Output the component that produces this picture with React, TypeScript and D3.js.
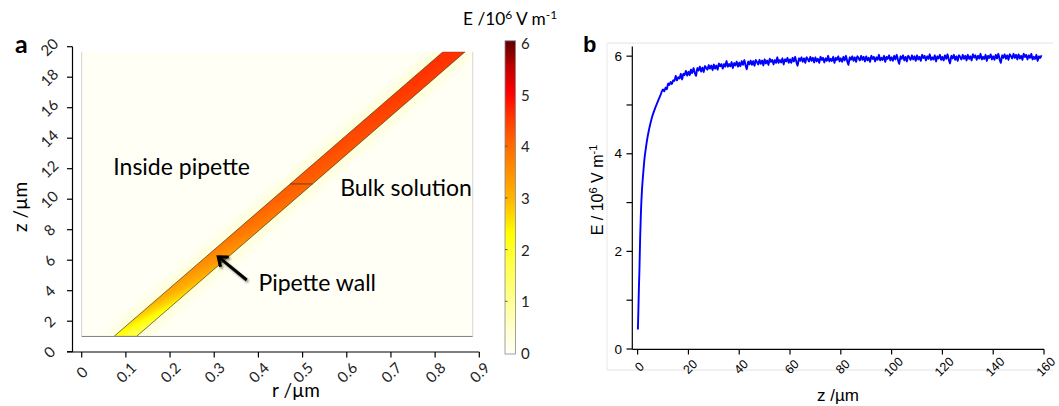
import React from "react";
import * as d3 from "d3";

// ---------- Panel a data ----------
const rTicks = [0, 0.1, 0.2, 0.3, 0.4, 0.5, 0.6, 0.7, 0.8, 0.9];
const rTickLabels = ["0", "0.1", "0.2", "0.3", "0.4", "0.5", "0.6", "0.7", "0.8", "0.9"];
const zTicksA = [0, 2, 4, 6, 8, 10, 12, 14, 16, 18, 20];
const cbTicks = [0, 1, 2, 3, 4, 5, 6];
const heatStops = [0, 0.5, 1, 2, 2.3, 3, 4, 4.5, 5, 5.5, 6];
const heatColors = ["#fffff6", "#ffffcc", "#ffff94", "#ffff2a", "#ffff00", "#ffb400", "#ff6a00", "#ff3c00", "#ff0000", "#c00000", "#5e0000"];
const boxR = [0, 0.885];
const boxZ = [1, 19.67];
const wallZ = [1, 19.67];
const wallInnerR = [0.073, 0.818];
const wallOuterR = [0.124, 0.868];
const dividerZ = 11;
const stripZ = [1, 2, 3, 4, 5, 6, 8, 10, 12, 14, 16, 18, 19.67];
const stripE = [1.8, 2.3, 2.7, 3.0, 3.25, 3.45, 3.8, 4.05, 4.2, 4.35, 4.45, 4.55, 4.6];
const annotations = [
  { text: "Inside pipette", r: 0.0715, z: 12.2 },
  { text: "Bulk solution", r: 0.585, z: 10.8 },
  { text: "Pipette wall", r: 0.4, z: 4.6 },
];
const arrowTail = { r: 0.3735, z: 4.7 };
const arrowHead = { r: 0.309, z: 6.23 };

// ---------- Panel b data ----------
const zTicksB = [0, 20, 40, 60, 80, 100, 120, 140, 160];
const eTicks = [0, 1, 2, 3, 4, 5, 6];
const eTickLabels = [0, 2, 4, 6];
const earlyZ = [0.1, 0.3, 0.5, 0.7, 1.0, 1.3, 1.7, 2.2, 2.7, 3.2, 3.7, 4.5, 5.5, 6.5, 8, 9];
const earlyE = [0.4, 0.8, 1.25, 1.6, 2.3, 2.8, 3.25, 3.6, 3.9, 4.1, 4.28, 4.5, 4.72, 4.88, 5.08, 5.2];
const noisyZStart = 10;
const noisyZStep = 0.5;
const noisyE = [
  5.32, 5.28, 5.36, 5.32, 5.44, 5.41, 5.47, 5.43, 5.51, 5.49,
  5.60, 5.50, 5.57, 5.54, 5.64, 5.52, 5.64, 5.61, 5.70, 5.60,
  5.68, 5.61, 5.73, 5.65, 5.76, 5.66, 5.59, 5.76, 5.70, 5.79,
  5.68, 5.77, 5.67, 5.80, 5.76, 5.72, 5.82, 5.74, 5.81, 5.71,
  5.83, 5.74, 5.81, 5.72, 5.85, 5.79, 5.84, 5.74, 5.84, 5.78,
  5.90, 5.78, 5.84, 5.79, 5.88, 5.75, 5.86, 5.81, 5.89, 5.78,
  5.87, 5.79, 5.90, 5.82, 5.92, 5.81, 5.73, 5.89, 5.83, 5.91,
  5.82, 5.90, 5.80, 5.92, 5.88, 5.83, 5.93, 5.84, 5.91, 5.81,
  5.94, 5.85, 5.91, 5.82, 5.95, 5.88, 5.93, 5.83, 5.92, 5.86,
  5.98, 5.86, 5.92, 5.87, 5.96, 5.83, 5.94, 5.89, 5.97, 5.86,
  5.94, 5.86, 5.97, 5.89, 5.99, 5.88, 5.80, 5.96, 5.90, 5.98,
  5.88, 5.96, 5.86, 5.98, 5.94, 5.89, 5.99, 5.90, 5.97, 5.87,
  5.98, 5.89, 5.95, 5.86, 5.99, 5.92, 5.97, 5.87, 5.96, 5.90,
  6.01, 5.89, 5.95, 5.90, 5.99, 5.86, 5.97, 5.92, 6.00, 5.89,
  5.96, 5.88, 5.99, 5.91, 6.01, 5.90, 5.82, 5.98, 5.92, 6.00,
  5.90, 5.98, 5.88, 6.00, 5.96, 5.91, 6.01, 5.92, 5.99, 5.89,
  6.00, 5.91, 5.97, 5.88, 6.01, 5.94, 5.99, 5.89, 5.98, 5.92,
  6.03, 5.91, 5.97, 5.92, 6.01, 5.88, 5.99, 5.94, 6.02, 5.91,
  5.98, 5.90, 6.01, 5.93, 6.03, 5.92, 5.84, 6.00, 5.94, 6.02,
  5.91, 5.99, 5.89, 6.01, 5.97, 5.92, 6.02, 5.93, 6.00, 5.90,
  6.02, 5.93, 5.99, 5.90, 6.03, 5.96, 6.01, 5.91, 6.00, 5.94,
  6.04, 5.92, 5.98, 5.93, 6.02, 5.89, 6.00, 5.95, 6.03, 5.92,
  5.99, 5.91, 6.02, 5.94, 6.04, 5.93, 5.85, 6.01, 5.95, 6.03,
  5.92, 6.00, 5.90, 6.02, 5.98, 5.93, 6.03, 5.94, 6.01, 5.91,
  6.03, 5.94, 6.00, 5.91, 6.04, 5.97, 6.02, 5.92, 6.01, 5.95,
  6.05, 5.93, 5.99, 5.94, 6.03, 5.90, 6.01, 5.96, 6.04, 5.93,
  6.00, 5.92, 6.03, 5.95, 6.05, 5.94, 5.86, 6.02, 5.96, 6.04,
  5.94, 6.02, 5.92, 6.04, 6.00, 5.95, 6.05, 5.96, 6.03, 5.93,
  6.04, 5.95, 6.01, 5.92, 6.05, 5.98, 6.03, 5.93, 6.02, 5.96,
  6.05, 5.93, 5.99, 5.94, 6.03, 5.90, 6.00, 5.96, 6.02,
];

const fontA = "Lato, 'Open Sans', sans-serif";
const fontB = "'Liberation Sans', Arial, sans-serif";

export default function App() {
  const W = 1059, H = 406;
  const xA = d3.scaleLinear().domain([0, 0.9]).range([81.7, 479.3]);
  const yA = d3.scaleLinear().domain([0, 20]).range([351.7, 46.7]);
  const heat = d3.scaleLinear<string>().domain(heatStops).range(heatColors).interpolate(d3.interpolateRgb).clamp(true);
  const cbY = d3.scaleLinear().domain([0, 6]).range([353, 42.8]);

  const rAt = (arr: number[], z: number) => arr[0] + ((arr[1] - arr[0]) * (z - wallZ[0])) / (wallZ[1] - wallZ[0]);
  const wallPts: [number, number][] = [
    [xA(wallInnerR[0]), yA(wallZ[0])],
    [xA(wallInnerR[1]), yA(wallZ[1])],
    [xA(wallOuterR[1]), yA(wallZ[1])],
    [xA(wallOuterR[0]), yA(wallZ[0])],
  ];
  const glowPts: [number, number][] = [
    [xA(wallInnerR[0]) - 8, yA(wallZ[0])],
    [xA(wallInnerR[1]) - 8, yA(wallZ[1])],
    [xA(wallOuterR[1]) + 8, yA(wallZ[1])],
    [xA(wallOuterR[0]) + 8, yA(wallZ[0])],
  ];
  const centers = stripZ.map((z) => [xA((rAt(wallInnerR, z) + rAt(wallOuterR, z)) / 2), yA(z)]);
  const dl = Math.hypot(-0.45, -0.89);
  const d = [-0.45 / dl, -0.89 / dl];
  const c0 = centers[0];
  const proj = (c: number[]) => (c[0] - c0[0]) * d[0] + (c[1] - c0[1]) * d[1];
  const L = proj(centers[centers.length - 1]);

  const boxX0 = xA(boxR[0]), boxX1 = xA(boxR[1]);
  const boxY0 = yA(boxZ[1]), boxY1 = yA(boxZ[0]);

  const head = [xA(arrowHead.r), yA(arrowHead.z)];
  const tail = [xA(arrowTail.r), yA(arrowTail.z)];
  const ang = Math.atan2(tail[1] - head[1], tail[0] - head[0]);
  const hl = 10.5, ha = (38 * Math.PI) / 180;
  const headPath = `M${head[0] + hl * Math.cos(ang + ha)},${head[1] + hl * Math.sin(ang + ha)} L${head[0]},${head[1]} L${head[0] + hl * Math.cos(ang - ha)},${head[1] + hl * Math.sin(ang - ha)}`;
  const arrowPath = `M${tail[0]},${tail[1]} L${head[0] + 1.5 * Math.cos(ang)},${head[1] + 1.5 * Math.sin(ang)}`;

  // Panel b
  const xB = d3.scaleLinear().domain([-2.1, 160]).range([632.3, 1044]);
  const yB = d3.scaleLinear().domain([0, 6.2]).range([349, 46.4]);
  const curve: [number, number][] = [
    ...earlyZ.map((z, i) => [z, earlyE[i]] as [number, number]),
    ...noisyE.map((e, i) => [noisyZStart + i * noisyZStep, e] as [number, number]),
  ];
  const line = d3.line<[number, number]>().x((p) => xB(p[0])).y((p) => yB(p[1])).curve(d3.curveMonotoneX);

  return (
    <svg width={W} height={H} style={{ position: "absolute", left: 0, top: 0, background: "#fff" }}>
      <defs>
        <linearGradient id="wallGrad" gradientUnits="userSpaceOnUse" x1={c0[0]} y1={c0[1]} x2={c0[0] + d[0] * L} y2={c0[1] + d[1] * L}>
          {stripZ.map((z, i) => (
            <stop key={i} offset={proj(centers[i]) / L} stopColor={heat(stripE[i])} />
          ))}
        </linearGradient>
        <linearGradient id="cbGrad" x1="0" y1="1" x2="0" y2="0">
          {heatStops.map((v, i) => (
            <stop key={i} offset={v / 6} stopColor={heatColors[i]} />
          ))}
        </linearGradient>
        <clipPath id="boxClip">
          <rect x={boxX0} y={boxY0} width={boxX1 - boxX0} height={boxY1 - boxY0} />
        </clipPath>
        <filter id="glowBlur" x="-20%" y="-20%" width="140%" height="140%">
          <feGaussianBlur stdDeviation="6" />
        </filter>
        <filter id="shadowBlur" x="-50%" y="-50%" width="200%" height="200%">
          <feGaussianBlur stdDeviation="1.2" />
        </filter>
      </defs>

      {/* ---------- Panel a ---------- */}
      <text x={15} y={53} fontFamily={fontA} fontWeight="bold" fontSize={25} fill="#000">a</text>
      <rect x={boxX0} y={boxY0} width={boxX1 - boxX0} height={boxY1 - boxY0} fill={heat(0)} />
      <g clipPath="url(#boxClip)">
        <polygon points={glowPts.map((p) => p.join(",")).join(" ")} fill={heat(0.7)} opacity={0.6} filter="url(#glowBlur)" />
        <polygon points={wallPts.map((p) => p.join(",")).join(" ")} fill="url(#wallGrad)" stroke="#4a3a20" strokeWidth={0.7} />
        <line x1={xA(rAt(wallInnerR, dividerZ))} x2={xA(rAt(wallOuterR, dividerZ))} y1={yA(dividerZ)} y2={yA(dividerZ)} stroke="#4a3a20" strokeWidth={0.8} />
      </g>
      <line x1={boxX0} x2={boxX0} y1={boxY0} y2={boxY1} stroke="#d4d4d4" strokeWidth={1} />
      <line x1={boxX1} x2={boxX1} y1={boxY0} y2={boxY1} stroke="#d8d8d8" strokeWidth={1} />
      <line x1={boxX0} x2={boxX1} y1={boxY1} y2={boxY1} stroke="#808080" strokeWidth={1} />

      {annotations.map((a, i) => (
        <text key={i} x={xA(a.r)} y={yA(a.z)} dominantBaseline="central" fontFamily={fontA} fontSize={23} fill="#000">{a.text}</text>
      ))}
      <g transform="translate(1.5,1.8)" opacity={0.45} filter="url(#shadowBlur)">
        <path d={arrowPath} stroke="#000" strokeWidth={3} fill="none" />
        <path d={headPath} stroke="#000" strokeWidth={3} fill="none" />
      </g>
      <path d={arrowPath} stroke="#000" strokeWidth={3} fill="none" />
      <path d={headPath} stroke="#000" strokeWidth={3} fill="none" strokeLinejoin="miter" />

      {/* axes a */}
      <line x1={72.5} x2={72.5} y1={yA(20)} y2={352} stroke="#000" strokeWidth={1.2} />
      {zTicksA.map((z) => (
        <g key={z}>
          <line x1={67} x2={72.5} y1={yA(z)} y2={yA(z)} stroke="#000" strokeWidth={1.2} />
          <text transform={`translate(49,${yA(z)}) rotate(-45)`} textAnchor="middle" dominantBaseline="central" fontFamily={fontA} fontSize={15} fill="#222">{z}</text>
        </g>
      ))}
      <line x1={67} x2={xA(0.9)} y1={352} y2={352} stroke="#000" strokeWidth={1.2} />
      {rTicks.map((r, i) => (
        <g key={r}>
          <line x1={xA(r)} x2={xA(r)} y1={352} y2={357.5} stroke="#000" strokeWidth={1.2} />
          <text transform={`translate(${xA(r)},${372}) rotate(-45)`} textAnchor="middle" dominantBaseline="central" fontFamily={fontA} fontSize={15} fill="#222">{rTickLabels[i]}</text>
        </g>
      ))}
      <text x={296} y={397} textAnchor="middle" fontFamily={fontA} fontSize={19} fill="#000">r /µm</text>
      <text transform="translate(27,207) rotate(-90)" textAnchor="middle" fontFamily={fontA} fontSize={19} fill="#000">z /µm</text>

      {/* colorbar */}
      <text x={463} y={25} fontFamily={fontA} fontSize={17.3} fill="#000">
        E /10<tspan dy={-6} fontSize={12}>6</tspan><tspan dy={6}> V m</tspan><tspan dy={-6} fontSize={12}>-1</tspan>
      </text>
      <rect x={505} y={cbY(6) - 2} width={10.5} height={cbY(0) - cbY(6) + 3} fill="url(#cbGrad)" stroke="#8a8a8a" strokeWidth={0.8} />
      {cbTicks.map((v) => (
        <g key={v}>
          {v > 0 && v < 6 && <line x1={505} x2={507.5} y1={cbY(v)} y2={cbY(v)} stroke="#555" strokeWidth={1} />}
          <text x={521} y={cbY(v)} dominantBaseline="central" fontFamily={fontA} fontSize={15} fill="#222">{v}</text>
        </g>
      ))}

      {/* ---------- Panel b ---------- */}
      <line x1={607} x2={1053} y1={43} y2={43} stroke="#e2e2e2" strokeWidth={1} />
      <line x1={607} x2={607} y1={43} y2={370} stroke="#e8e8e8" strokeWidth={1} />
      <line x1={607} x2={1053} y1={370} y2={370} stroke="#e2e2e2" strokeWidth={1} />
      <text x={583} y={52} fontFamily={fontB} fontWeight="bold" fontSize={22} fill="#000">b</text>

      <path d={line(curve) || ""} fill="none" stroke="#0000ff" strokeWidth={1.9} strokeLinejoin="round" />

      <line x1={xB(-2.1)} x2={xB(-2.1)} y1={yB(6.2)} y2={349.3} stroke="#000" strokeWidth={1.2} />
      {eTicks.map((e) => (
        <line key={e} x1={626.5} x2={xB(-2.1)} y1={yB(e)} y2={yB(e)} stroke="#000" strokeWidth={1.2} />
      ))}
      {eTickLabels.map((e) => (
        <text key={e} x={622} y={yB(e)} textAnchor="end" dominantBaseline="central" fontFamily={fontB} fontSize={13.5} fill="#000">{e}</text>
      ))}
      <line x1={xB(-2.1)} x2={xB(160)} y1={349.3} y2={349.3} stroke="#000" strokeWidth={1.2} />
      {zTicksB.map((z) => (
        <g key={z}>
          <line x1={xB(z)} x2={xB(z)} y1={349.3} y2={354.5} stroke="#000" strokeWidth={1.2} />
          <text transform={`translate(${xB(z) + 2},${367}) rotate(-45)`} textAnchor="middle" dominantBaseline="central" fontFamily={fontB} fontSize={12.5} fill="#000">{z}</text>
        </g>
      ))}
      <text x={838} y={401} textAnchor="middle" fontFamily={fontB} fontSize={17} fill="#000">z /µm</text>
      <text transform="translate(603,190) rotate(-90)" textAnchor="middle" fontFamily={fontB} fontSize={16} fill="#000">
        E / 10<tspan dy={-6} fontSize={11}>6</tspan><tspan dy={6}> V m</tspan><tspan dy={-6} fontSize={11}>-1</tspan>
      </text>
    </svg>
  );
}
